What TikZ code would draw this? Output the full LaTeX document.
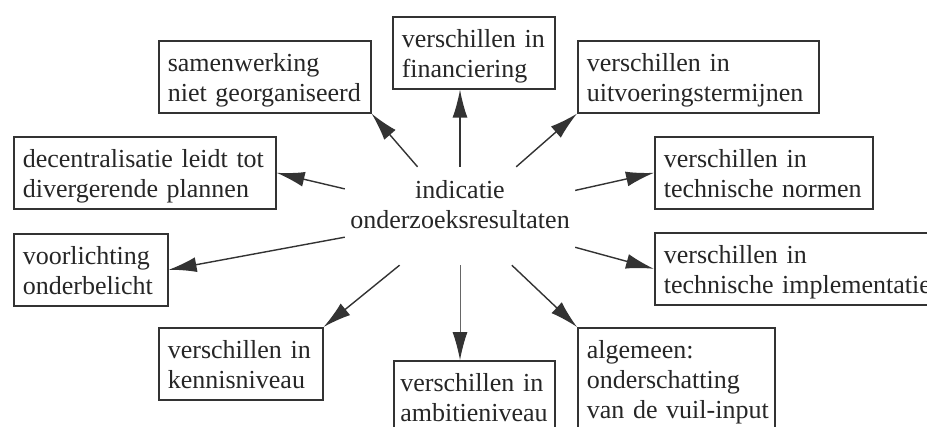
\documentclass[tikz,border=0pt]{standalone}
\usepackage{fontspec}
\setmainfont{Liberation Serif}
\usetikzlibrary{arrows.meta}
\setlength{\parindent}{0pt}

\begin{document}
\begin{tikzpicture}[>={Latex[length=28pt,width=15pt,color=black!80]},x=1pt,y=-1pt,
	box/.style={draw=black!80,line width=1.6pt,text=black!85,anchor=north west,align=left,
		inner xsep=9pt,inner ysep=0pt,font=\fontsize{26}{30}\selectfont,
		execute at begin node={\rule{0pt}{31pt}},execute at end node={\rule[-11pt]{0pt}{11pt}}},
	arr/.style={->,draw=black!80,line width=1.4pt}]
	\useasboundingbox (0,0) rectangle (927,426);
	\fill[white] (0,0) rectangle (927,426);
	
	\node[text=black!85,font=\fontsize{26}{30}\selectfont,align=center,minimum width=230pt,
		minimum height=98pt,inner sep=0pt] (ctr) at (460,216) {indicatie\\onderzoeksresultaten\rule[-24pt]{0pt}{24pt}};
	
	\begin{scope}
		\node[box,text width=144pt] (fin) at (392,16) {verschillen in\\financiering};
		\node[box,text width=194pt] (sam) at (158,40) {samenwerking\\niet georganiseerd};
		\node[box,text width=244pt] (dec) at (13,136) {decentralisatie leidt tot\\divergerende plannen};
		\node[box,text width=223pt] (uit) at (577,40) {verschillen in\\uitvoeringstermijnen};
		\node[box,text width=200pt] (nor) at (654,136) {verschillen in\\technische normen};
		\node[box,text width=136pt] (voo) at (13,233) {voorlichting\\onderbelicht};
		\node[box,text width=285pt,execute at begin node={\rule{0pt}{30pt}}] (imp) at (654,232) {verschillen in\\technische implementatie};
		\node[box,text width=146pt] (ken) at (158,327) {verschillen in\\kennisniveau};
		\node[box,text width=148pt,inner xsep=6.5pt,execute at begin node={\rule{0pt}{27pt}}] (amb) at (393,360) {verschillen in\\ambitieniveau};
		\node[box,text width=179pt] (alg) at (577,327) {algemeen:\\onderschatting\\\mbox{van de vuil-input}};
	\end{scope}
	
	\begin{scope}
		\draw[arr] (ctr) -- (sam.south east);
		\draw[arr] (ctr.north) -- (ctr.north |- fin.south);
		\draw[arr] (ctr) -- (uit.south west);
		\draw[arr] (ctr) -- (nor.west);
		\draw[arr] (ctr) -- (dec.east);
		\draw[arr] (ctr) -- (voo.east);
		\draw[arr] (ctr) -- (imp.west);
		\draw[arr] (ctr) -- (ken.north east);
		\draw[arr,draw=black!60,line width=0.9pt] (ctr.south) -- (ctr.south |- amb.north);
		\draw[arr] (ctr) -- (alg.north west);
	\end{scope}
\end{tikzpicture}
\end{document}
